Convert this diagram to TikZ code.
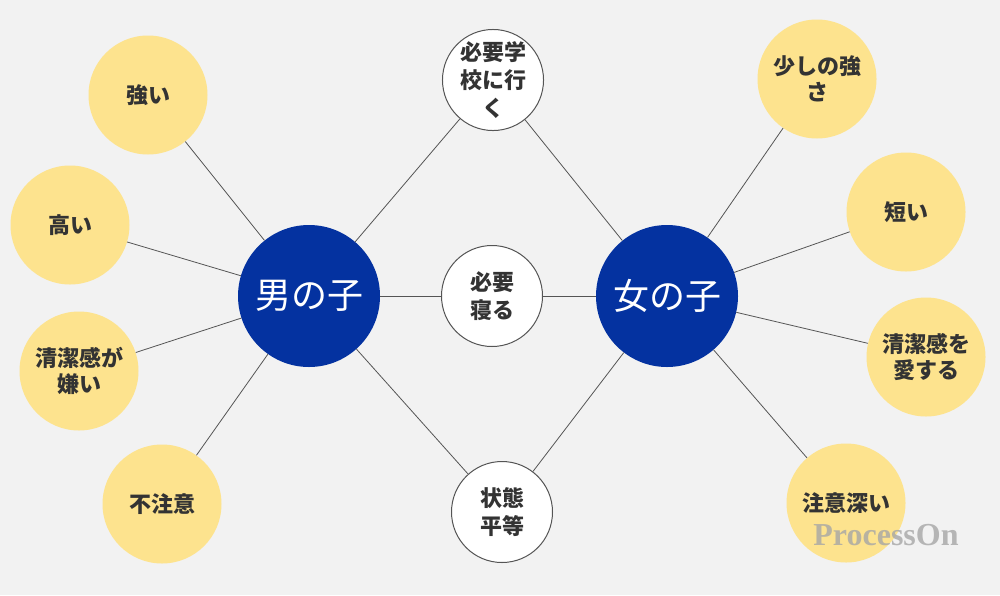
\documentclass[tikz,border=0pt]{standalone}
\usepackage{fontspec}
\setmainfont{Noto Sans CJK JP}
\newfontfamily\wmfont{Liberation Serif}
\usepackage{tikz}
\usetikzlibrary{positioning}

\definecolor{bgcol}{HTML}{F2F2F2}
\definecolor{boyblue}{HTML}{0432A0}
\definecolor{leafyel}{HTML}{FDE38E}
\definecolor{txtcol}{HTML}{333333}
\definecolor{linkcol}{HTML}{555555}

\begin{document}
\begin{tikzpicture}[
    x=1pt, y=-1pt,
    hub/.style={
      circle, fill=boyblue, text=white, minimum size=142pt, inner sep=0pt,
      font=\fontsize{36}{40}\selectfont
    },
    leaf/.style={
      circle, fill=leafyel, text=txtcol, minimum size=119pt, inner sep=0pt,
      align=center, font=\fontsize{22}{26}\selectfont\bfseries
    },
    shared/.style={
      circle, draw=linkcol, line width=1pt, fill=white, text=txtcol,
      minimum size=101pt, inner sep=0pt, align=center,
      font=\fontsize{22}{28}\selectfont\bfseries
    },
    link/.style={draw=linkcol, line width=0.8pt}
]

  % Canvas
  \fill[bgcol] (0,0) rectangle (1000,595);
  \useasboundingbox (0,0) rectangle (1000,595);

  % Hubs
  \node[hub] (boy)  at (309,296) {男の子};
  \node[hub] (girl) at (667,296) {女の子};

  % Shared nodes
  \node[shared] (school) at (493,80)  {必要学\\校に行\\く};
  \node[shared] (sleep)  at (492,296) {必要\\寝る};
  \node[shared] (equal)  at (502,512) {状態\\平等};

  % Boy leaves
  \node[leaf] (strong)  at (148,95)  {強い};
  \node[leaf] (tall)    at (70,225)  {高い};
  \node[leaf] (dirty)   at (79,371)  {清潔感が\\嫌い};
  \node[leaf] (careless) at (162,504) {不注意};

  % Girl leaves
  \node[leaf] (weak)    at (817,79)  {少しの強\\さ};
  \node[leaf] (short)   at (906,212) {短い};
  \node[leaf] (clean)   at (926,357) {清潔感を\\愛する};
  \node[leaf] (careful) at (846,503) {注意深い};

  % Connections
  \foreach \n in {strong,tall,dirty,careless,school,sleep,equal}
    \path[link] (boy) -- (\n);
  \foreach \n in {weak,short,clean,careful,school,sleep,equal}
    \path[link] (girl) -- (\n);

  % Watermark
  \node[text=gray!70, opacity=0.8, font=\wmfont\fontsize{32}{32}\selectfont\bfseries]
    (mark) at (886,535) {ProcessOn};

\end{tikzpicture}
\end{document}
